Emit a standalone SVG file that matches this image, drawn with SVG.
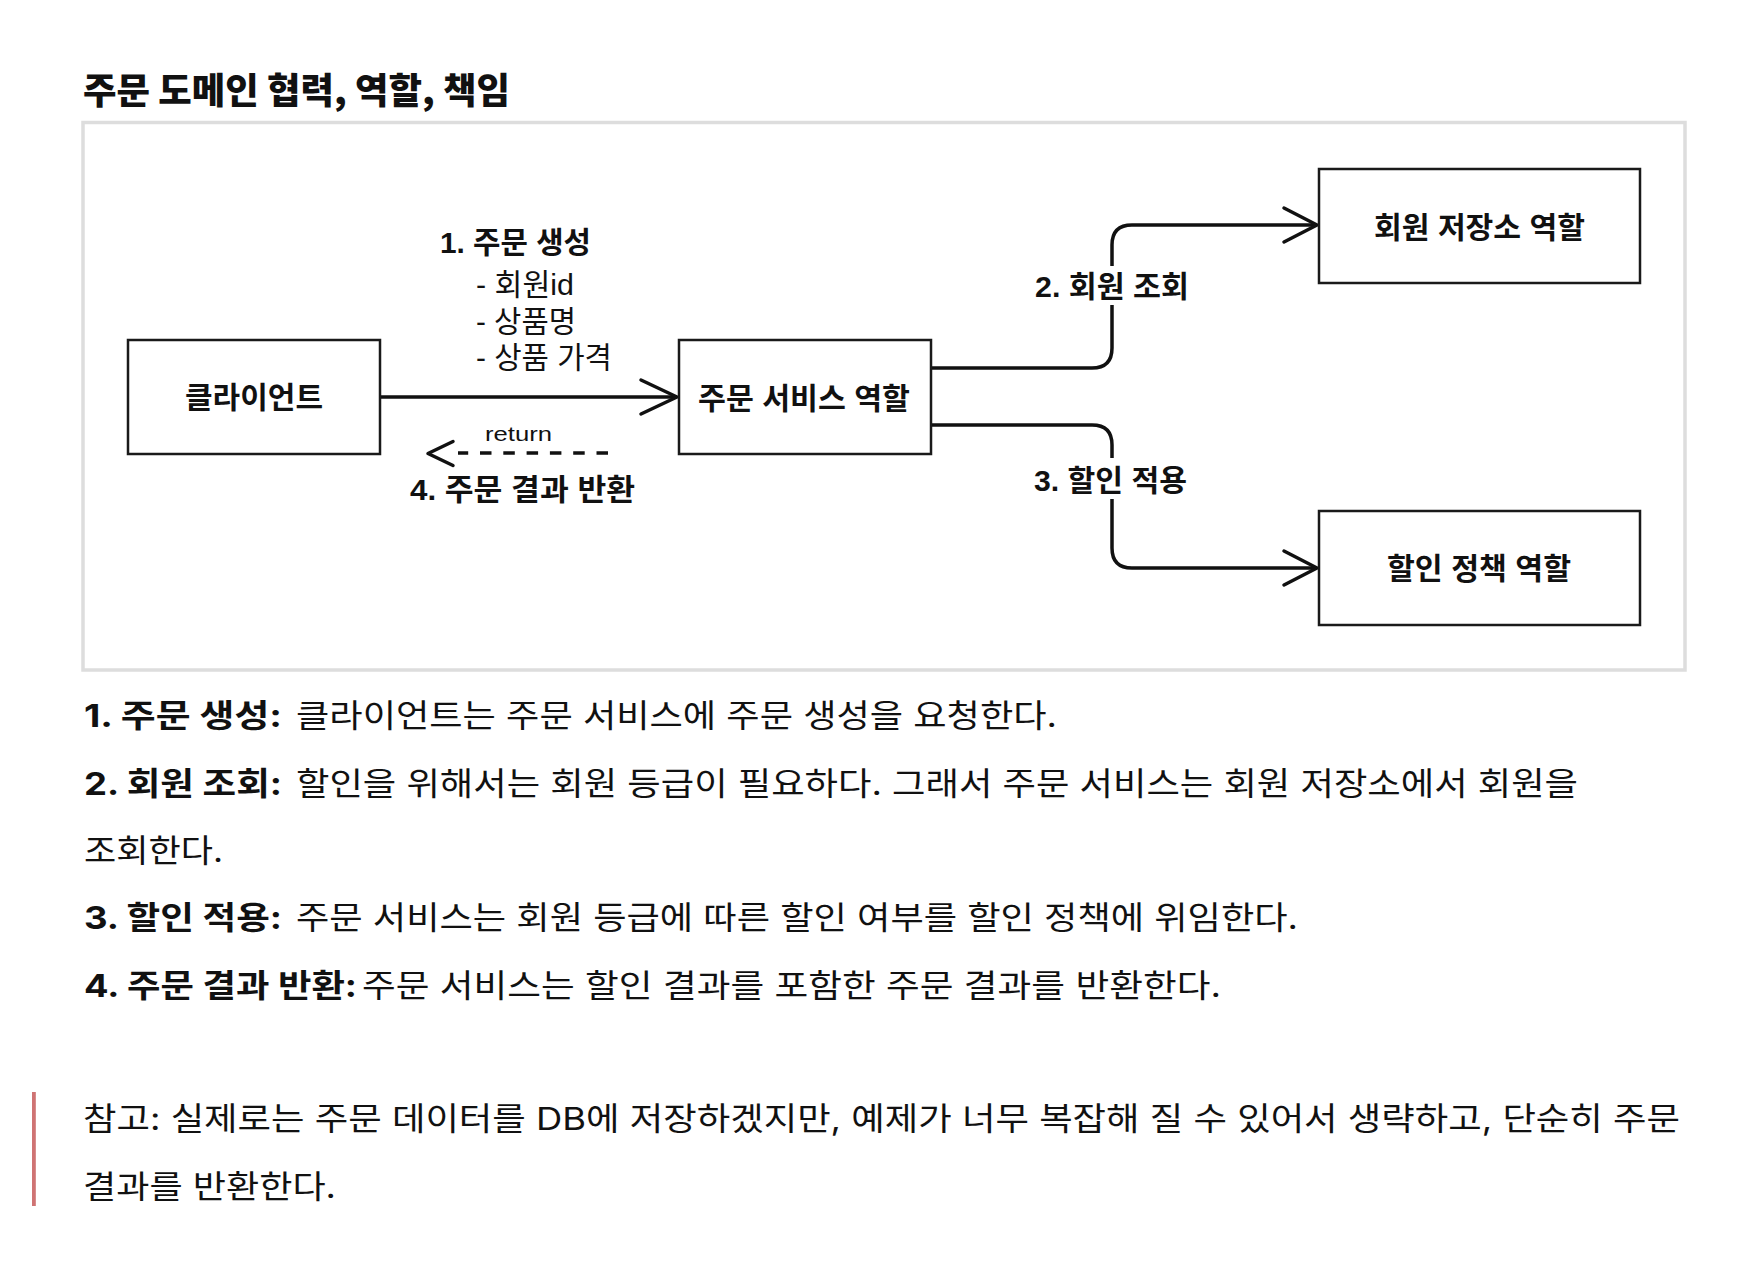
<svg xmlns="http://www.w3.org/2000/svg" width="1740" height="1280" viewBox="0 0 1740 1280">
<style>
.title{font-family:"Noto Sans CJK KR","Noto Sans",sans-serif;font-weight:800;font-size:36px;fill:#111}
.lbl{font-family:"Liberation Sans","Noto Sans CJK KR",sans-serif;font-weight:700;font-size:29.5px;fill:#111}
.lblr{font-family:"Liberation Sans","Noto Sans CJK KR",sans-serif;font-weight:400;font-size:29.5px;fill:#111}
.ret{font-family:"Liberation Sans","Noto Sans CJK KR",sans-serif;font-weight:400;font-size:21px;fill:#111}
.b{font-family:"Inter","Noto Sans CJK KR",sans-serif;font-weight:700;font-size:31.5px;fill:#111}
.r{font-family:"Inter","Noto Sans CJK KR",sans-serif;font-weight:400;font-size:31.5px;fill:#111}
.box{fill:#fff;stroke:#1a1a1a;stroke-width:2.5}
.edge{fill:none;stroke:#111;stroke-width:3.5;stroke-linecap:round;stroke-linejoin:round}
.dash{fill:none;stroke:#111;stroke-width:3.5;stroke-dasharray:11.5 11.8}
</style>

<text class="title" x="83" y="104" textLength="427" lengthAdjust="spacingAndGlyphs">주문 도메인 협력, 역할, 책임</text>

<rect id="frame" x="83" y="122.5" width="1602" height="547.5" fill="#fff" stroke="#dddddd" stroke-width="3.5"/>

<g id="connectors">
  <path class="edge" d="M380,397 H675"/>
  <path class="edge" d="M641,380 L677,397 L641,414"/>
  <path class="dash" d="M608,453 H458"/>
  <path class="edge" d="M453,441.5 L428,453.5 L453,465.5"/>
  <path class="edge" d="M931,368 H1092 Q1112,368 1112,348 V245 Q1112,225 1132,225 H1315"/>
  <path class="edge" d="M1284,208 L1317,225 L1284,242"/>
  <path class="edge" d="M931,425 H1092 Q1112,425 1112,445 V548 Q1112,568 1132,568 H1315"/>
  <path class="edge" d="M1284,551 L1317,568 L1284,585"/>
  <rect x="1030" y="266" width="165" height="39" fill="#fff"/>
  <rect x="1030" y="458" width="165" height="41" fill="#fff"/>
  <text class="lbl" x="440" y="253" textLength="151" lengthAdjust="spacingAndGlyphs">1. 주문 생성</text>
  <text class="lblr" x="476" y="295" textLength="98" lengthAdjust="spacingAndGlyphs">- 회원id</text>
  <text class="lblr" x="476" y="332" textLength="100" lengthAdjust="spacingAndGlyphs">- 상품명</text>
  <text class="lblr" x="476" y="368" textLength="136" lengthAdjust="spacingAndGlyphs">- 상품 가격</text>
  <text class="ret" x="485" y="441" textLength="67" lengthAdjust="spacingAndGlyphs">return</text>
  <text class="lbl" x="410" y="500" textLength="225" lengthAdjust="spacingAndGlyphs">4. 주문 결과 반환</text>
  <text class="lbl" x="1035" y="297" textLength="154" lengthAdjust="spacingAndGlyphs">2. 회원 조회</text>
  <text class="lbl" x="1034" y="491" textLength="153" lengthAdjust="spacingAndGlyphs">3. 할인 적용</text>
</g>

<g id="client">
  <rect class="box" x="128" y="340" width="252" height="114"/>
  <text class="lbl" x="185" y="408" textLength="138" lengthAdjust="spacingAndGlyphs">클라이언트</text>
</g>
<g id="order-service">
  <rect class="box" x="679" y="340" width="252" height="114"/>
  <text class="lbl" x="698" y="409" textLength="212" lengthAdjust="spacingAndGlyphs">주문 서비스 역할</text>
</g>
<g id="member-repository">
  <rect class="box" x="1319" y="169" width="321" height="114"/>
  <text class="lbl" x="1374" y="238" textLength="211" lengthAdjust="spacingAndGlyphs">회원 저장소 역할</text>
</g>
<g id="discount-policy">
  <rect class="box" x="1319" y="511" width="321" height="114"/>
  <text class="lbl" x="1387" y="579" textLength="184" lengthAdjust="spacingAndGlyphs">할인 정책 역할</text>
</g>

<g id="description">
  <text class="b" x="84" y="727" textLength="198" lengthAdjust="spacingAndGlyphs">1. 주문 생성:</text>
  <text class="r" x="296" y="727" textLength="761" lengthAdjust="spacingAndGlyphs">클라이언트는 주문 서비스에 주문 생성을 요청한다.</text>
  <text class="b" x="84" y="795" textLength="198" lengthAdjust="spacingAndGlyphs">2. 회원 조회:</text>
  <text class="r" x="296" y="795" textLength="1282" lengthAdjust="spacingAndGlyphs">할인을 위해서는 회원 등급이 필요하다. 그래서 주문 서비스는 회원 저장소에서 회원을</text>
  <text class="r" x="84" y="862" textLength="139" lengthAdjust="spacingAndGlyphs">조회한다.</text>
  <text class="b" x="84" y="929" textLength="198" lengthAdjust="spacingAndGlyphs">3. 할인 적용:</text>
  <text class="r" x="296" y="929" textLength="1002" lengthAdjust="spacingAndGlyphs">주문 서비스는 회원 등급에 따른 할인 여부를 할인 정책에 위임한다.</text>
  <text class="b" x="84" y="997" textLength="273" lengthAdjust="spacingAndGlyphs">4. 주문 결과 반환:</text>
  <text class="r" x="362" y="997" textLength="859" lengthAdjust="spacingAndGlyphs">주문 서비스는 할인 결과를 포함한 주문 결과를 반환한다.</text>
</g>

<g id="note">
  <rect x="32" y="1092" width="3.8" height="114" fill="#cf7373"/>
  <text class="r" x="83" y="1130" textLength="1597" lengthAdjust="spacingAndGlyphs">참고: 실제로는 주문 데이터를 DB에 저장하겠지만, 예제가 너무 복잡해 질 수 있어서 생략하고, 단순히 주문</text>
  <text class="r" x="83" y="1198" textLength="253" lengthAdjust="spacingAndGlyphs">결과를 반환한다.</text>
</g>
</svg>
